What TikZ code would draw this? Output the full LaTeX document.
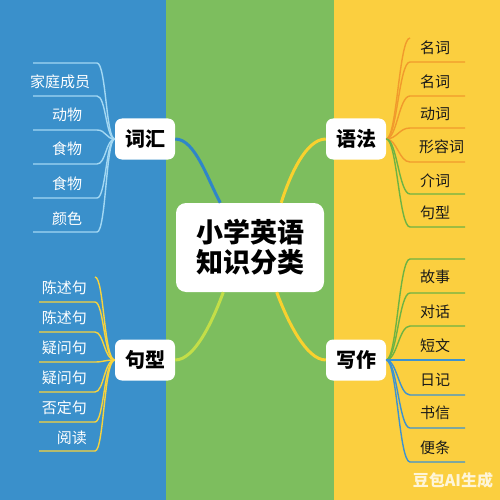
\documentclass[tikz,border=0pt]{standalone}
\usepackage{fontspec}
\setmainfont{Noto Sans CJK SC}
\usetikzlibrary{calc}
\definecolor{bandblue}{HTML}{3A90CB}
\definecolor{bandgreen}{HTML}{7DBE5E}
\definecolor{bandyellow}{HTML}{FBCF3F}
\definecolor{lblue}{HTML}{A3D8F3}
\definecolor{lyellow}{HTML}{F7D33C}
\definecolor{lorange}{HTML}{F19A2C}
\definecolor{lgreen}{HTML}{6DB343}
\definecolor{lbluedk}{HTML}{3C92D1}
\definecolor{clime}{HTML}{C3DE48}
\definecolor{cyel}{HTML}{F9D12E}
\definecolor{cblue}{HTML}{2F86C8}
\begin{document}
\begin{tikzpicture}[x=1pt,y=-1pt,
  mainbox/.style={fill=white,rounded corners=10pt,minimum width=148pt,minimum height=89pt,align=center,
    font=\fontsize{27}{30}\selectfont\bfseries,text=black,inner sep=0pt},
  branchbox/.style={fill=white,rounded corners=7pt,minimum width=60pt,minimum height=41pt,
    font=\fontsize{20}{22}\selectfont\bfseries,text=black,inner sep=0pt},
  leafw/.style={font=\fontsize{15}{17}\selectfont,text=white,inner sep=0pt},
  leafk/.style={font=\fontsize{15}{17}\selectfont,text=black!90,inner sep=0pt,anchor=west},
  leafline/.style={line width=1.4pt},
  mainline/.style={line width=3pt}]
\useasboundingbox (0,0) rectangle (500,500);
\fill[bandblue] (0,0) rectangle (166,500);
\fill[bandgreen] (166,0) rectangle (334,500);
\fill[bandyellow] (334,0) rectangle (500,500);

\node[mainbox] (root) at (250,247.5) {小学英语\\知识分类};
\node[branchbox] (cihui) at (145,139) {词汇};
\node[branchbox] (yufa) at (356,139) {语法};
\node[branchbox] (juxing) at (145,360) {句型};
\node[branchbox] (xiezuo) at (356,360) {写作};

% main connectors
\draw[mainline,cblue] (cihui.east) .. controls (195,139) and (207,178) .. ($(root.north west)!0.3!(root.north east)$);
\draw[mainline,cyel] (yufa.west) .. controls (306,139) and (290,175) .. ($(root.north west)!0.71!(root.north east)$);
\draw[mainline,clime] (juxing.east) .. controls (195,360) and (213,320) .. ($(root.south west)!0.32!(root.south east)$);
\draw[mainline,cyel] (xiezuo.west) .. controls (306,360) and (287,320) .. ($(root.south west)!0.68!(root.south east)$);

% 词汇 leaves
\foreach \y [count=\i] in {63,96,130,164,198,232}{
  \coordinate (ca\i) at (97,\y);
  \coordinate (cb\i) at (33,\y);
  \draw[leafline,lblue] (cihui.west) .. controls (106,139) and (106,\y) .. (ca\i) -- (cb\i);
}
\node[leafw] (c1) at (60,82) {家庭成员};
\node[leafw] (c2) at (67,115) {动物};
\node[leafw] (c3) at (67,149) {食物};
\node[leafw] (c4) at (67,184) {食物};
\node[leafw] (c5) at (67,219) {颜色};

% 句型 leaves
\coordinate (ja0) at (95,277);
\draw[leafline,lyellow] (juxing.west) .. controls (104,360) and (104,277) .. (ja0);
\foreach \y [count=\i] in {302,332,362,392,422,451}{
  \coordinate (ja\i) at (95,\y);
  \coordinate (jb\i) at (39,\y);
  \draw[leafline,lyellow] (juxing.west) .. controls (104,360) and (104,\y) .. (ja\i) -- (jb\i);
}
\node[leafw,anchor=east] (j1) at (87,288) {陈述句};
\node[leafw,anchor=east] (j2) at (87,318) {陈述句};
\node[leafw,anchor=east] (j3) at (87,348) {疑问句};
\node[leafw,anchor=east] (j4) at (87,378) {疑问句};
\node[leafw,anchor=east] (j5) at (87,408) {否定句};
\node[leafw,anchor=east] (j6) at (87,438) {阅读};

% 语法 leaves
\coordinate (ya0) at (410,38);
\draw[leafline,lorange] (yufa.east) .. controls (397,139) and (399,38) .. (ya0);
\foreach \y/\c [count=\i] in {62/lorange,96/lorange,128/lorange,162/lorange,194/lgreen,227/lgreen}{
  \coordinate (ya\i) at (410,\y);
  \coordinate (yb\i) at (465,\y);
  \draw[leafline,\c] (yufa.east) .. controls (397,139) and (399,\y) .. (ya\i) -- (yb\i);
}
\node[leafk] (y1) at (420,48) {名词};
\node[leafk] (y2) at (420,82) {名词};
\node[leafk] (y3) at (420,114) {动词};
\node[leafk] (y4) at (419,147) {形容词};
\node[leafk] (y5) at (420,181) {介词};
\node[leafk] (y6) at (420,213) {句型};

% 写作 leaves
\foreach \y/\c [count=\i] in {259/lgreen,293/lgreen,326/lgreen,360/lbluedk,395/lbluedk,428/lbluedk,462/lbluedk}{
  \coordinate (xa\i) at (410,\y);
  \coordinate (xb\i) at (465,\y);
  \draw[leafline,\c] (xiezuo.east) .. controls (397,360) and (399,\y) .. (xa\i) -- (xb\i);
}
\node[leafk] (x1) at (420,277) {故事};
\node[leafk] (x2) at (420,312) {对话};
\node[leafk] (x3) at (420,346) {短文};
\node[leafk] (x4) at (420,380) {日记};
\node[leafk] (x5) at (420,413) {书信};
\node[leafk] (x6) at (420,448) {便条};

\node[font=\fontsize{16}{18}\selectfont\bfseries,text=white,text opacity=0.8,inner sep=0pt] (wm) at (453,480) {豆包AI生成};
\end{tikzpicture}
\end{document}
